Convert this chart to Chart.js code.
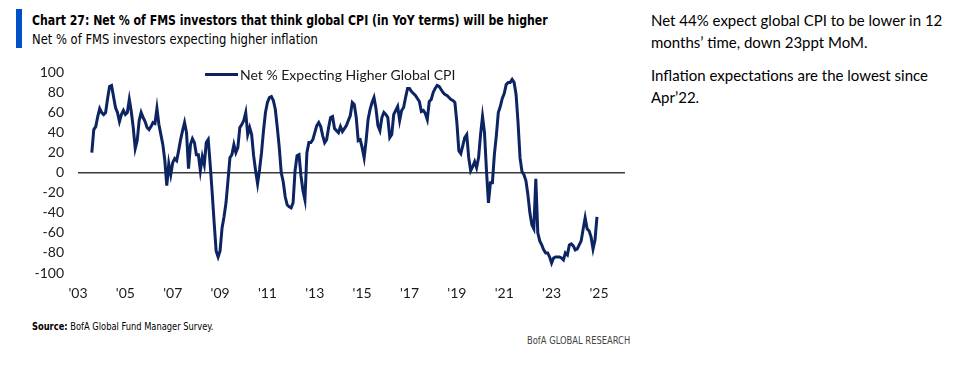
<!DOCTYPE html>
<html>
<head>
<meta charset="utf-8">
<script src="https://cdn.jsdelivr.net/npm/chart.js@4.4.0/dist/chart.umd.min.js"></script>
<style>
  body { margin: 0; width: 979px; height: 366px; background: #fff; position: relative; overflow: hidden;
         font-family: 'Liberation Sans Narrow', 'DejaVu Sans Condensed', sans-serif; color: #000; }
  .bar { position: absolute; left: 16px; top: 9px; width: 6px; height: 39px; background: #0050c8; }
  .title, .sub, .src, .brand { transform-origin: left center; }
  .title { position: absolute; left: 32px; top: 12px; font-weight: bold; font-size: 14px; line-height: 16px; white-space: nowrap; transform: scaleX(0.87); }
  .sub { position: absolute; left: 32px; top: 31px; font-size: 14px; line-height: 16px; white-space: nowrap; transform: scaleX(0.917); }
  .note { position: absolute; left: 651px; font-family: Lato, sans-serif; font-size: 15px; line-height: 22px; white-space: nowrap; }
  .chartbox { position: absolute; left: 0; top: 50px; width: 640px; height: 260px; }
  .src { position: absolute; left: 32px; top: 320px; font-size: 11px; line-height: 14px; white-space: nowrap; transform: scaleX(0.84); }
  .brand { position: absolute; left: 527px; top: 334px; font-size: 10px; line-height: 14px; color: #444; white-space: nowrap; transform: scaleX(0.93); }
</style>
</head>
<body>
<div class="bar"></div>
<div class="title">Chart 27: Net % of FMS investors that think global CPI (in YoY terms) will be higher</div>
<div class="sub">Net % of FMS investors expecting higher inflation</div>
<div class="note" style="top:9px">Net 44% expect global CPI to be lower in 12<br>months’ time, down 23ppt MoM.</div>
<div class="note" style="top:64px">Inflation expectations are the lowest since<br>Apr’22.</div>
<div class="chartbox"><canvas id="chart"></canvas></div>
<div class="src"><b>Source:</b> BofA Global Fund Manager Survey.</div>
<div class="brand">BofA GLOBAL RESEARCH</div>

<script>
// serie mensal, primeiro ponto = ago/2003
const startYear = 2003;
const startMonth = 8;
const seriesName = 'Net % Expecting Higher Global CPI';
const netHigherCPI = [
  20, 43, 46, 56, 64,                                   // 2003 (ago-dez)
  60, 58, 60, 74, 86, 87, 76, 65, 60, 51, 58, 62,       // 2004
  58, 60, 73, 61, 45, 24, 32, 52, 60, 55, 51, 45,       // 2005
  43, 46, 50, 49, 64, 48, 38, 28, 12, -13, 9, -2,       // 2006
  10, 14, 12, 22, 33, 42, 50, 40, 4, 28, 34, 30,        // 2007
  18, 18, 2, 16, 8, 30, 33, 8, -20, -50, -78, -84,      // 2008
  -78, -55, -44, -30, -8, 15, 18, 28, 20, 25, 45, 48,   // 2009
  52, 60, 38, 45, 38, 17, 2, -11, 3, 20, 42, 60,        // 2010
  70, 75, 76, 72, 63, 45, 25, 0, -9, -24, -32, -34,     // 2011
  -35, -30, 2, 17, 18, -3, -18, -27, 20, 30, 30, 33,    // 2012
  40, 47, 50, 46, 37, 30, 33, 45, 55, 56, 44, 42,       // 2013
  40, 46, 41, 44, 47, 52, 57, 70, 68, 55, 32, 33,       // 2014
  25, 15, 32, 53, 63, 70, 75, 64, 47, 42, 55, 60,       // 2015
  58, 55, 35, 38, 58, 62, 66, 52, 62, 65, 75, 84,       // 2016
  84, 81, 79, 77, 74, 71, 61, 62, 59, 53, 71, 73,       // 2017
  80, 84, 87, 86, 83, 80, 78, 77, 75, 73, 72, 70,       // 2018
  50, 22, 19, 27, 35, 38, 15, 2, 6, 11, 5, 15,          // 2019
  38, 56, 40, 2, -30, -10, -10, 18, 37, 60, 66, 74,     // 2020
  79, 88, 90, 90, 93, 90, 78, 50, 15, 1, -2, -8,        // 2021
  -22, -40, -52, -56, -6, -60, -68, -72, -77, -80, -80, -84, // 2022
  -90, -85, -84, -84, -84, -85, -87, -80, -82, -72, -71, -73, // 2023
  -77, -76, -72, -68, -56, -45, -56, -58, -64, -76, -67, -44  // 2024
];
const tickYears = [2003, 2005, 2007, 2009, 2011, 2013, 2015, 2017, 2019, 2021, 2023, 2025];
const tickLabels = ["'03", "'05", "'07", "'09", "'11", "'13", "'15", "'17", "'19", "'21", "'23", "'25"];
const yTicks = [-100, -80, -60, -40, -20, 0, 20, 40, 60, 80, 100];

const navy = '#0c2461';
const points = netHigherCPI.map((v, i) => ({ x: startYear + (startMonth - 1 + i) / 12, y: v }));

// legenda desenhada dentro da area do grafico
const legendaDentro = {
  id: 'legendaDentro',
  afterDraw(chart) {
    const { ctx, chartArea } = chart;
    const x = chartArea.left + 127;
    const y = chartArea.top + 2;
    ctx.save();
    ctx.strokeStyle = navy;
    ctx.lineWidth = 3;
    ctx.beginPath();
    ctx.moveTo(x, y);
    ctx.lineTo(x + 33, y);
    ctx.stroke();
    ctx.fillStyle = '#1a1a1a';
    ctx.font = '14px Lato';
    ctx.textBaseline = 'middle';
    ctx.fillText(seriesName, x + 35, y + 1);
    ctx.restore();
  }
};

const ctx = document.getElementById('chart').getContext('2d');
new Chart(ctx, {
  type: 'line',
  data: {
    datasets: [{
      label: seriesName,
      data: points,
      borderColor: navy,
      borderWidth: 3,
      pointRadius: 0,
      tension: 0,
      fill: false
    }]
  },
  options: {
    responsive: true,
    maintainAspectRatio: false,
    animation: false,
    // o chart.js soma meia altura do rotulo do topo ao padding
    layout: { padding: { top: 9.6, right: 15, bottom: 7, left: 0 } },
    plugins: {
      legend: { display: false },
      tooltip: { enabled: false }
    },
    scales: {
      x: {
        type: 'linear',
        min: 2003,
        max: 2026.1,
        afterBuildTicks: (axis) => { axis.ticks = tickYears.map(v => ({ value: v })); },
        afterFit: (axis) => { axis.height = 30; },
        grid: { display: false, drawTicks: false },
        border: { display: false },
        ticks: {
          padding: 12,
          maxRotation: 0,
          autoSkip: false,
          color: '#1a1a1a',
          font: { family: 'Lato', size: 14 },
          callback: (value) => tickLabels[tickYears.indexOf(value)]
        }
      },
      y: {
        min: -100,
        max: 100,
        afterBuildTicks: (axis) => { axis.ticks = yTicks.map(v => ({ value: v })); },
        afterFit: (axis) => { axis.width = 78; },
        grid: {
          drawTicks: false,
          lineWidth: 1.5,
          color: (c) => c.tick && c.tick.value === 0 ? '#3a3a3a' : 'rgba(0,0,0,0)'
        },
        border: { display: false },
        ticks: {
          padding: 14,
          color: '#1a1a1a',
          font: { family: 'Lato', size: 14 }
        }
      }
    }
  },
  plugins: [legendaDentro]
});
</script>
</body>
</html>
